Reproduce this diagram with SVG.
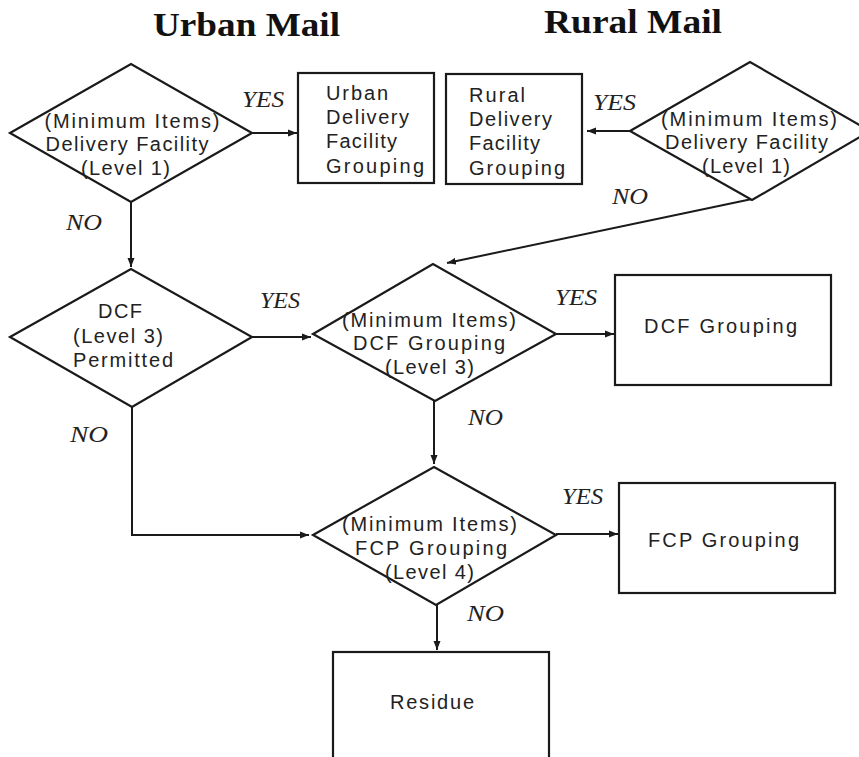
<svg xmlns="http://www.w3.org/2000/svg" width="859" height="757" viewBox="0 0 859 757">
  <defs>
    <marker id="arrow" markerUnits="userSpaceOnUse" markerWidth="10" markerHeight="8" refX="9" refY="4" orient="auto">
      <path d="M0,0.5 L9,4 L0,7.5 z" fill="#1a1a1a"/>
    </marker>
    <style>
      .shape { fill: #ffffff; stroke: #1a1a1a; stroke-width: 2.2; stroke-linejoin: miter; }
      .link { fill: none; stroke: #1a1a1a; stroke-width: 2; marker-end: url(#arrow); }
      .txt { font-family: "Liberation Sans", Arial, sans-serif; font-size: 20px; fill: #222222; }
      .mid { text-anchor: middle; }
      .lbl { font-family: "Liberation Serif", "Times New Roman", serif; font-style: italic; font-size: 23px; fill: #222222; }
      .title { font-family: "Liberation Serif", "Times New Roman", serif; font-weight: bold; font-size: 34px; fill: #111111; }
    </style>
  </defs>

  <rect width="859" height="757" fill="#ffffff"/>

  <!-- column headings -->
  <text class="title" x="153" y="36" textLength="187" lengthAdjust="spacingAndGlyphs">Urban Mail</text>
  <text class="title" x="544" y="33" textLength="178" lengthAdjust="spacingAndGlyphs">Rural Mail</text>

  <!-- connectors -->
  <g id="connectors">
    <line class="link" x1="252" y1="133" x2="297" y2="133"/>
    <line class="link" x1="630" y1="131" x2="587" y2="131"/>
    <line class="link" x1="131" y1="202" x2="131" y2="267"/>
    <line class="link" x1="752" y1="199" x2="447" y2="263"/>
    <line class="link" x1="252" y1="337" x2="311" y2="337"/>
    <line class="link" x1="556" y1="334" x2="614" y2="334"/>
    <line class="link" x1="434" y1="401" x2="434" y2="464"/>
    <polyline class="link" points="132,407 132,535 309,535"/>
    <line class="link" x1="556" y1="534" x2="618" y2="534"/>
    <line class="link" x1="437" y1="605" x2="437" y2="650"/>
    <!-- branch labels -->
    <text class="lbl" x="242" y="107" textLength="42" lengthAdjust="spacingAndGlyphs">YES</text>
    <text class="lbl" x="593" y="110" textLength="43" lengthAdjust="spacingAndGlyphs">YES</text>
    <text class="lbl" x="66" y="230" textLength="36" lengthAdjust="spacingAndGlyphs">NO</text>
    <text class="lbl" x="612" y="204" textLength="36" lengthAdjust="spacingAndGlyphs">NO</text>
    <text class="lbl" x="260" y="308" textLength="40" lengthAdjust="spacingAndGlyphs">YES</text>
    <text class="lbl" x="555" y="305" textLength="42" lengthAdjust="spacingAndGlyphs">YES</text>
    <text class="lbl" x="70" y="442" textLength="38" lengthAdjust="spacingAndGlyphs">NO</text>
    <text class="lbl" x="468" y="425" textLength="35" lengthAdjust="spacingAndGlyphs">NO</text>
    <text class="lbl" x="562" y="504" textLength="41" lengthAdjust="spacingAndGlyphs">YES</text>
    <text class="lbl" x="467" y="621" textLength="37" lengthAdjust="spacingAndGlyphs">NO</text>
  </g>

  <!-- urban delivery facility decision -->
  <g id="urban-df-check">
    <polygon class="shape" points="10,133 131,64 252,133 131,202"/>
    <text class="txt mid" x="132" y="128" textLength="175" lengthAdjust="spacing">(Minimum Items)</text>
    <text class="txt mid" x="127" y="151" textLength="163" lengthAdjust="spacing">Delivery Facility</text>
    <text class="txt mid" x="125.5" y="175" textLength="89" lengthAdjust="spacing">(Level 1)</text>
  </g>

  <g id="urban-df-grouping">
    <rect class="shape" x="298" y="73" width="136" height="110"/>
    <text class="txt" x="326" y="100" textLength="62" lengthAdjust="spacing">Urban</text>
    <text class="txt" x="326" y="124" textLength="83" lengthAdjust="spacing">Delivery</text>
    <text class="txt" x="326" y="148" textLength="71" lengthAdjust="spacing">Facility</text>
    <text class="txt" x="326" y="173" textLength="98" lengthAdjust="spacing">Grouping</text>
  </g>

  <g id="rural-df-grouping">
    <rect class="shape" x="446" y="74" width="136" height="110"/>
    <text class="txt" x="469" y="102" textLength="56" lengthAdjust="spacing">Rural</text>
    <text class="txt" x="469" y="126" textLength="83" lengthAdjust="spacing">Delivery</text>
    <text class="txt" x="469" y="150" textLength="71" lengthAdjust="spacing">Facility</text>
    <text class="txt" x="469" y="175" textLength="96" lengthAdjust="spacing">Grouping</text>
  </g>

  <!-- rural delivery facility decision -->
  <g id="rural-df-check">
    <polygon class="shape" points="630,131 750,62 870,131 752,200"/>
    <text class="txt mid" x="749" y="126" textLength="176" lengthAdjust="spacing">(Minimum Items)</text>
    <text class="txt mid" x="746.5" y="149" textLength="163" lengthAdjust="spacing">Delivery Facility</text>
    <text class="txt mid" x="746" y="173" textLength="88" lengthAdjust="spacing">(Level 1)</text>
  </g>

  <g id="dcf-permitted">
    <polygon class="shape" points="10,337 131,269 252,337 132,407"/>
    <text class="txt mid" x="120" y="318" textLength="44" lengthAdjust="spacing">DCF</text>
    <text class="txt mid" x="118" y="343" textLength="90" lengthAdjust="spacing">(Level 3)</text>
    <text class="txt mid" x="123" y="367" textLength="100" lengthAdjust="spacing">Permitted</text>
  </g>

  <g id="dcf-check">
    <polygon class="shape" points="313,334 433,264 556,334 435,401"/>
    <text class="txt mid" x="429" y="327" textLength="174" lengthAdjust="spacing">(Minimum Items)</text>
    <text class="txt mid" x="429" y="350" textLength="152" lengthAdjust="spacing">DCF Grouping</text>
    <text class="txt mid" x="429.5" y="374" textLength="89" lengthAdjust="spacing">(Level 3)</text>
  </g>

  <g id="dcf-grouping">
    <rect class="shape" x="615" y="275" width="216" height="110"/>
    <text class="txt mid" x="720.5" y="333" textLength="153" lengthAdjust="spacing">DCF Grouping</text>
  </g>

  <g id="fcp-check">
    <polygon class="shape" points="313,535 434,467 556,535 436,605"/>
    <text class="txt mid" x="429.5" y="531" textLength="175" lengthAdjust="spacing">(Minimum Items)</text>
    <text class="txt mid" x="431" y="555" textLength="152" lengthAdjust="spacing">FCP Grouping</text>
    <text class="txt mid" x="429.5" y="579" textLength="89" lengthAdjust="spacing">(Level 4)</text>
  </g>

  <g id="fcp-grouping">
    <rect class="shape" x="619" y="483" width="216" height="110"/>
    <text class="txt mid" x="723.5" y="547" textLength="151" lengthAdjust="spacing">FCP Grouping</text>
  </g>

  <g id="residue">
    <rect class="shape" x="333" y="652" width="216" height="110"/>
    <text class="txt mid" x="432" y="709" textLength="84" lengthAdjust="spacing">Residue</text>
  </g>
</svg>
